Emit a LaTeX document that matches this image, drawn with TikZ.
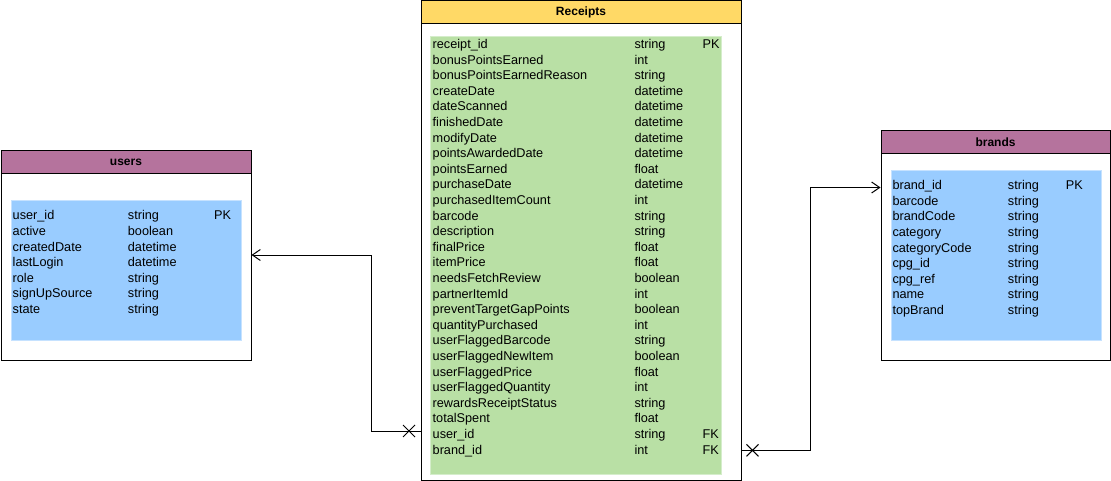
\documentclass[tikz,border=0pt]{standalone}
\usepackage{fontspec}
\setmainfont{Liberation Sans}
\usetikzlibrary{arrows.meta,shapes.misc}
\definecolor{hdrP}{HTML}{B5739D}
\definecolor{hdrY}{HTML}{FFD966}
\definecolor{bodyG}{HTML}{B9E0A5}
\definecolor{bodyB}{HTML}{99CCFF}
\definecolor{edgeB}{HTML}{C6E2FF}
\definecolor{edgeG}{HTML}{D5EDCB}
\begin{document}
\begin{tikzpicture}[x=1pt,y=-1pt,
  tbl/.style={draw=black, line width=1pt, fill=white, anchor=north west, inner sep=0pt},
  hdr/.style={draw=black, line width=1pt, anchor=north west, inner sep=0pt, minimum height=23pt, font=\fontsize{12}{14}\selectfont\bfseries},
  bodyarea/.style={anchor=north west, inner sep=0pt, line width=0.8pt},
  cell/.style={anchor=base west, inner sep=0pt, font=\fontsize{12.7}{14}\selectfont},
  conn/.style={draw=black, line width=1pt},
  barb/.style={-{Straight Barb[length=8pt,width=11pt,line width=1pt]}},
  xmark/.style={cross out, draw=black, line width=1pt, minimum size=11pt, inner sep=0pt}
]
\useasboundingbox (0,0) rectangle (1111,481);

% ---------- Receipts ----------
\node[tbl, minimum width=320pt, minimum height=479pt] (rec) at (420.5,0.5) {};
\node[hdr, fill=hdrY, minimum width=320pt] (rech) at (rec.north west) {Receipts};
\node[bodyarea, fill=bodyG, draw=edgeG, minimum width=291pt, minimum height=438pt] (recb) at (430,36) {};
\foreach \n/\t/\k [count=\i from 0] in {
  receipt\_id/string/PK,
  bonusPointsEarned/int/,
  bonusPointsEarnedReason/string/,
  createDate/datetime/,
  dateScanned/datetime/,
  finishedDate/datetime/,
  modifyDate/datetime/,
  pointsAwardedDate/datetime/,
  pointsEarned/float/,
  purchaseDate/datetime/,
  purchasedItemCount/int/,
  barcode/string/,
  description/string/,
  finalPrice/float/,
  itemPrice/float/,
  needsFetchReview/boolean/,
  partnerItemId/int/,
  preventTargetGapPoints/boolean/,
  quantityPurchased/int/,
  userFlaggedBarcode/string/,
  userFlaggedNewItem/boolean/,
  userFlaggedPrice/float/,
  userFlaggedQuantity/int/,
  rewardsReceiptStatus/string/,
  totalSpent/float/,
  user\_id/string/FK,
  brand\_id/int/FK}{
  \node[cell] (rn\i) at (432.5, 48.5+15.6*\i) {\n};
  \node[cell] (rt\i) at (634.3, 48.5+15.6*\i) {\t};
  \node[cell] (rk\i) at (702.5, 48.5+15.6*\i) {\k};
}

% ---------- users ----------
\node[tbl, minimum width=250pt, minimum height=210pt] (users) at (0.5,150) {};
\node[hdr, fill=hdrP, minimum width=250pt] (usersh) at (users.north west) {users};
\node[bodyarea, fill=bodyB, draw=edgeB, minimum width=230pt, minimum height=140pt] (usersb) at (10.5,200) {};
\foreach \n/\t/\k [count=\i from 0] in {
  user\_id/string/PK,
  active/boolean/,
  createdDate/datetime/,
  lastLogin/datetime/,
  role/string/,
  signUpSource/string/,
  state/string/}{
  \node[cell] (un\i) at (12.5, 220+15.55*\i) {\n};
  \node[cell] (ut\i) at (127.7, 220+15.55*\i) {\t};
  \node[cell] (uk\i) at (214, 220+15.55*\i) {\k};
}

% ---------- brands ----------
\node[tbl, minimum width=229pt, minimum height=230pt] (brands) at (880.5,130) {};
\node[hdr, fill=hdrP, minimum width=229pt] (brandsh) at (brands.north west) {brands};
\node[bodyarea, fill=bodyB, draw=edgeB, minimum width=210pt, minimum height=170pt] (brandsb) at (890.5,170) {};
\foreach \n/\t/\k [count=\i from 0] in {
  brand\_id/string/PK,
  barcode/string/,
  brandCode/string/,
  category/string/,
  categoryCode/string/,
  cpg\_id/string/,
  cpg\_ref/string/,
  name/string/,
  topBrand/string/}{
  \node[cell] (bn\i) at (892.3, 190+15.5*\i) {\n};
  \node[cell] (bt\i) at (1007.7, 190+15.5*\i) {\t};
  \node[cell] (bk\i) at (1065.7, 190+15.5*\i) {\k};
}

% ---------- connectors ----------
\coordinate (uy1) at (0,431);
\coordinate (ubend) at (371,0);
\coordinate (uy2) at (0,255);
\draw[conn, barb] (rec.west |- uy1) -| (ubend |- uy2) -- (users.east |- uy2);
\node[xmark] (ux) at (409,431) {};

\coordinate (by1) at (0,450.3);
\coordinate (bbend) at (810,0);
\coordinate (by2) at (0,187.5);
\draw[conn, barb] (rec.east |- by1) -| (bbend |- by2) -- (brands.west |- by2);
\node[xmark] (bx) at (752.5,450.3) {};
\end{tikzpicture}
\end{document}
